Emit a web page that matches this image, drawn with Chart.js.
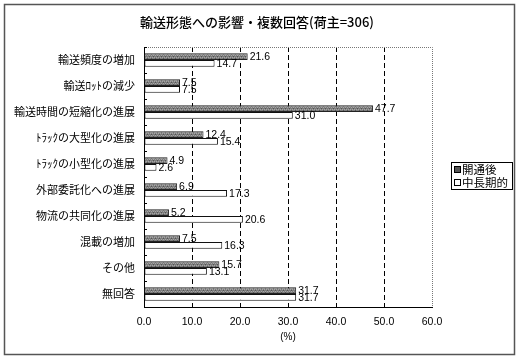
<!DOCTYPE html>
<html><head><meta charset="utf-8">
<script src="https://cdn.jsdelivr.net/npm/chart.js@4/dist/chart.umd.min.js"></script>
<style>html,body{margin:0;padding:0;background:#fff}#wrap{width:520px;height:359px;position:relative}</style>
</head><body><div id="wrap"><canvas id="c" width="520" height="359"></canvas></div>
<script>
const categories = ['輸送頻度の増加','輸送ﾛｯﾄの減少','輸送時間の短縮化の進展','ﾄﾗｯｸの大型化の進展','ﾄﾗｯｸの小型化の進展','外部委託化への進展','物流の共同化の進展','混載の増加','その他','無回答'];
const afterOpening = [21.6, 7.5, 47.7, 12.4, 4.9, 6.9, 5.2, 7.5, 15.7, 31.7];
const longTerm = [14.7, 7.5, 31.0, 15.4, 2.6, 17.3, 20.6, 16.3, 13.1, 31.7];
const seriesNames = ['開通後', '中長期的'];
const xTicks = [0, 10, 20, 30, 40, 50, 60];
const titleText = '輸送形態への影響・複数回答(荷主=306)';
const axisTitle = '(%)';

function makePattern(){
  const p = document.createElement('canvas'); p.width = 4; p.height = 4;
  const g = p.getContext('2d');
  g.fillStyle = '#7c7c7c'; g.fillRect(0,0,4,4);
  g.fillStyle = '#a6a6a6'; g.fillRect(0,1,1,1); g.fillRect(2,1,1,1); g.fillRect(1,3,1,1); g.fillRect(3,3,1,1);
  g.fillStyle = '#555'; g.fillRect(1,0,1,1); g.fillRect(3,2,1,1);
  return g.createPattern(p, 'repeat');
}
const pat = makePattern();
const CJK = '"Noto Sans CJK JP", sans-serif';
const NUM = '"Liberation Sans", Arial, sans-serif';

const framePlugin = {
  id: 'frame',
  beforeDraw(chart){
    const ctx = chart.ctx;
    ctx.save();
    ctx.fillStyle = '#fff'; ctx.fillRect(0,0,chart.width,chart.height);
    ctx.strokeStyle = '#555'; ctx.lineWidth = 1.5;
    ctx.strokeRect(4.5, 4.5, 510, 350);
    ctx.fillStyle = '#000';
    ctx.font = '500 13px ' + CJK; ctx.textAlign = 'center'; ctx.textBaseline = 'middle';
    ctx.fillText(titleText, 257, 22);
    ctx.restore();
  },
  afterDraw(chart){
    const ctx = chart.ctx, a = chart.chartArea;
    const ys = chart.scales.y;
    ctx.save();
    ctx.strokeStyle = '#777'; ctx.lineWidth = 1; ctx.setLineDash([1,1]);
    ctx.beginPath();
    ctx.moveTo(a.left, a.top + 0.5); ctx.lineTo(a.right + 0.5, a.top + 0.5);
    ctx.lineTo(a.right + 0.5, a.bottom);
    ctx.stroke();
    ctx.setLineDash([]);
    ctx.strokeStyle = '#000';
    ctx.beginPath();
    for (let i = 0; i < categories.length; i++) {
      const y = Math.round(ys.getPixelForValue(i - 0.5)) + 0.5;
      ctx.moveTo(a.left, y); ctx.lineTo(a.left + 3, y);
    }
    ctx.stroke();
    const lx = 451, ly = 162, lw = 61, lh = 27;
    ctx.fillStyle = '#fff'; ctx.fillRect(lx, ly, lw, lh);
    ctx.strokeStyle = '#000'; ctx.lineWidth = 1;
    ctx.strokeRect(lx + 0.5, ly + 0.5, lw, lh);
    ctx.font = '11.5px ' + CJK; ctx.textBaseline = 'middle'; ctx.textAlign = 'left';
    chart.data.datasets.forEach((ds, i) => {
      const cy = ly + 7 + i * 13;
      ctx.fillStyle = i === 0 ? '#555' : '#fff';
      ctx.fillRect(lx + 3, cy - 3, 6, 6);
      ctx.strokeStyle = '#000';
      ctx.strokeRect(lx + 3.5, cy - 2.5, 6, 6);
      ctx.fillStyle = '#000';
      ctx.fillText(ds.label, lx + 11, cy + 0.5);
    });
    ctx.restore();
  },
  afterDatasetsDraw(chart){
    const ctx = chart.ctx;
    ctx.save();
    ctx.font = '10.5px ' + NUM; ctx.fillStyle = '#000';
    ctx.textBaseline = 'middle'; ctx.textAlign = 'left';
    chart.data.datasets.forEach((ds, di) => {
      const meta = chart.getDatasetMeta(di);
      meta.data.forEach((el, i) => {
        ctx.fillText(ds.data[i].toFixed(1), el.x + 2, el.y + (di === 1 ? 1 : 0));
      });
    });
    ctx.restore();
  }
};

new Chart(document.getElementById('c'), {
  type: 'bar',
  data: {
    labels: categories,
    datasets: [
      { label: seriesNames[0], data: afterOpening, backgroundColor: pat, borderColor: '#222', borderWidth: 1, borderSkipped: false },
      { label: seriesNames[1], data: longTerm, backgroundColor: '#fff', borderColor: '#111', borderWidth: 1, borderSkipped: false }
    ]
  },
  options: {
    indexAxis: 'y',
    responsive: false,
    animation: false,
    devicePixelRatio: 1,
    layout: { padding: { left: 0, right: 88, top: 47, bottom: 10 } },
    datasets: { bar: { categoryPercentage: 0.52, barPercentage: 1 } },
    plugins: {
      legend: { display: false },
      tooltip: { enabled: false },
      title: { display: false }
    },
    scales: {
      x: {
        min: 0, max: 60,
        afterBuildTicks(s){ s.ticks = xTicks.map(v => ({ value: v })); },
        afterFit(s){ s.height = 42; },
        grid: {
          drawTicks: false,
          color: c => (c.tick && (c.tick.value === 0 || c.tick.value === 60)) ? 'rgba(0,0,0,0)' : '#000',
          lineWidth: 1
        },
        border: { display: true, color: '#000', width: 1, dash: [5, 3] },
        ticks: { padding: 9, color: '#000', font: { family: NUM, size: 10.5 }, callback: v => Number(v).toFixed(1) },
        title: { display: true, text: axisTitle, color: '#000', font: { family: NUM, size: 10 }, padding: { top: 0, bottom: 6 } }
      },
      y: {
        afterFit(s){ s.width = 144; },
        grid: { display: false, drawTicks: false },
        border: { display: true, color: '#000', width: 1 },
        ticks: { padding: 9, color: '#000', font: { family: CJK, size: 11 } }
      }
    }
  },
  plugins: [framePlugin]
});
</script></body></html>
